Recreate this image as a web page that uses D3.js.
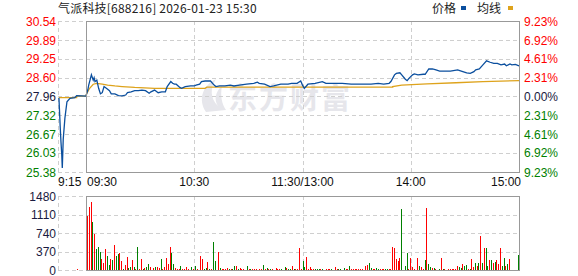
<!DOCTYPE html>
<html>
<head>
<meta charset="utf-8">
<script src="https://cdn.jsdelivr.net/npm/d3@7/dist/d3.min.js"></script>
<style>
  body { margin: 0; background: #fff; }
  svg { display: block; }
</style>
</head>
<body>
<svg id="chart" width="578" height="276"></svg>
<script>
// --- data ---
const title = "气派科技[688216] 2026-01-23 15:30";
const preClose = 27.96;
const priceTicks = [30.54, 29.89, 29.25, 28.60, 27.96, 27.32, 26.67, 26.03, 25.38];
const pctTicks = ["9.23%", "6.92%", "4.61%", "2.31%", "0.00%", "2.31%", "4.61%", "6.92%", "9.23%"];
const volTicks = [1480, 1110, 740, 370, 0];
const timeTicks = [0, 60, 120, 180, 240];
const timeLabels = ["09:30", "10:30", "11:30/13:00", "14:00", "15:00"];

// call auction 9:15-9:30, [minutes after 9:15, price]
const auctionPrice = [[0.5, 27.92], [1.2, 26.90], [1.6, 26.40], [2.0, 26.00], [2.3, 25.52],
  [2.8, 26.50], [3.7, 27.22], [4.8, 27.78], [6.4, 27.90], [9.0, 27.92], [10.0, 27.99], [15.0, 27.97]];
const auctionAvg = [[0.5, 27.92], [10.0, 27.92], [10.0, 27.97], [15.0, 27.97]];
const auctionVol = [[10, 20]];

// continuous session, [minute index from 9:30, price]
const price = [[0, 27.98], [1, 28.18], [1.5, 28.35], [3, 28.70], [4, 28.52], [4.5, 28.60], [5, 28.47],
  [6, 28.52], [7, 28.24], [8, 28.05], [9, 28.09], [10, 28.30], [12, 28.21], [13, 28.16], [14, 28.05],
  [16, 28.05], [18, 27.99], [20, 27.98], [22, 28.01], [23, 28.09], [25, 28.12], [27, 28.16], [29, 28.16],
  [31, 28.18], [33, 28.16], [35, 28.07], [36, 28.12], [38, 28.18], [40, 28.09], [42, 28.12], [44, 28.12],
  [45, 28.30], [47, 28.47], [48, 28.41], [49, 28.38], [50, 28.38], [52, 28.27], [53, 28.24], [55, 28.30],
  [58, 28.32], [60, 28.32], [61, 28.35], [63, 28.38], [64, 28.47], [66, 28.49], [69, 28.49], [71, 28.35],
  [72, 28.30], [74, 28.32], [77, 28.32], [80, 28.35], [82, 28.32], [85, 28.35], [89, 28.38], [93, 28.41],
  [95, 28.45], [96, 28.41], [99, 28.38], [102, 28.30], [104, 28.32], [108, 28.38], [112, 28.38],
  [114, 28.41], [117, 28.41], [119, 28.49], [120, 28.35], [121, 28.24], [123, 28.38], [127, 28.41],
  [131, 28.47], [133, 28.41], [136, 28.41], [142, 28.41], [147, 28.38], [153, 28.38], [158, 28.38],
  [162, 28.41], [165, 28.38], [168, 28.41], [169, 28.47], [171, 28.70], [172, 28.75], [174, 28.77],
  [175, 28.70], [177, 28.55], [178, 28.50], [179, 28.58], [181, 28.70], [182, 28.73], [184, 28.70],
  [187, 28.72], [188, 28.72], [190, 28.90], [192, 28.90], [194, 28.87], [196, 28.83], [199, 28.83],
  [202, 28.83], [206, 28.87], [208, 28.83], [211, 28.77], [213, 28.75], [215, 28.81], [216, 28.87],
  [218, 28.90], [220, 29.04], [222, 29.18], [224, 29.13], [226, 29.09], [228, 29.09], [230, 29.04],
  [232, 29.07], [233, 29.01], [235, 29.07], [236, 29.04], [238, 29.06], [240, 29.01]];

const avgPrice = [[0, 28.01], [2, 28.24], [4, 28.38], [6, 28.41], [9, 28.38], [12, 28.35], [16, 28.32],
  [20, 28.30], [27, 28.27], [38, 28.24], [66, 28.24], [67, 28.28], [170, 28.28], [170, 28.30],
  [175, 28.35], [189, 28.39], [205, 28.43], [220, 28.47], [240, 28.50]];

// volume per minute (hands); negative = down tick (green)
const volume = [
  1080, 1266, 1360, -960, 720, -413, -453, -360, 220, 147, 413, -280, -100, 213, -200, 500, -280, -320, 347, 180,
  -20, 100, 267, -47, -67, 200, -67, 20, -467, 20, 220, -20, 47, -67, -120, 53, 10, 33, -53, 53,
  33, -220, 20, 53, 233, 120, 467, -347, -120, 33, 20, 20, -80, 20, 20, 53, 20, 10, -53, 20,
  -80, 20, 10, 280, 220, -20, -33, 167, -20, 20, -567, -180, 10, 367, -33, 20, 20, 20, 40, -20,
  20, -20, -80, 80, -20, 33, 20, 20, 10, -80, 20, -20, 20, 20, 20, 10, 20, 20, -100, 20,
  -40, 20, -20, 20, 10, 40, 20, 20, -20, 10, -60, 40, -20, -20, 80, -20, 20, 20, 440, 20,
  -180, -60, 260, 20, 60, 20, 20, -20, -20, -20, 20, -20, 10, 20, 20, 20, -20, 10, 60, 20,
  -20, -20, 10, -40, 20, 20, -80, 20, 20, 20, 20, 20, 20, 20, 10, 80, 100, -140, -40, 20,
  20, -40, -20, 20, 20, 20, -20, -20, 20, 20, 460, 440, 220, 180, 240, -1220, 10, -80, -340, 20,
  240, 60, 20, 10, 240, -80, 60, 20, -200, 1240, -120, -60, 40, -40, 20, 10, -20, 240, -20, 20,
  10, 20, 20, 20, 20, 20, 80, -60, -40, 120, -80, -100, 20, -20, 220, 60, -140, 80, -140, 680,
  -140, 440, -440, -80, 200, -200, 140, -160, 200, 120, 440, -80, -240, 80, -120, 220, 0, 0, 0, 0,
  -300
];

// --- layout ---
const left = 86, right = 519, preLeft = 58;
const mainTop = 21, mainBottom = 172;
const volTop = 196, volBottom = 270;

const svg = d3.select('#chart');
const font = '"Liberation Sans", Arial, sans-serif';
const cjk = '"Noto Sans CJK SC", sans-serif';
const gridColor = '#cfcfcf';
const frameColor = '#999';
const up = '#ff0000', down = '#008000';
const lineBlue = '#0b4f9e', lineGold = '#dea31c';

const x = d3.scaleLinear().domain([0, 240]).range([left, right]);
const xPre = d3.scaleLinear().domain([0, 15]).range([preLeft, left]);
const xBar = d3.scaleLinear().domain([0, 240]).range([left + 1, right - 1]);
const y = d3.scaleLinear().domain([priceTicks[8], priceTicks[0]]).range([mainBottom, mainTop]);
const yVol = d3.scaleLinear().domain([0, volTicks[0]]).range([volBottom, volTop]);

// watermark
const wm = svg.append('g').attr('fill', '#e6e6eb');
wm.append('path')
  .attr('d', 'M206,112 C198,100 202,86 216,79 C210,88 210,98 218,106 C214,100 215,92 222,86 C220,96 222,104 226,110 Z');
wm.append('text')
  .attr('x', 228).attr('y', 109)
  .attr('font-family', cjk).attr('font-weight', 'bold').attr('font-size', 29)
  .attr('letter-spacing', 2)
  .text('东方财富');

// title + legend
svg.append('text')
  .attr('x', 58).attr('y', 13)
  .attr('font-family', cjk).attr('font-size', 12).attr('fill', '#222')
  .attr('letter-spacing', 0.2)
  .text(title);

const legend = svg.append('g').attr('font-family', cjk).attr('font-size', 12).attr('fill', '#222');
legend.append('text').attr('x', 432).attr('y', 13).text('价格');
legend.append('rect').attr('x', 461).attr('y', 6).attr('width', 5).attr('height', 4).attr('fill', lineBlue);
legend.append('text').attr('x', 477).attr('y', 13).text('均线');
legend.append('rect').attr('x', 508).attr('y', 6).attr('width', 5).attr('height', 4).attr('fill', lineGold);

// grid
const grid = svg.append('g')
  .attr('stroke', gridColor).attr('stroke-dasharray', '4,3').attr('shape-rendering', 'crispEdges');

grid.selectAll('.hp').data(priceTicks).enter().append('line')
  .attr('x1', preLeft).attr('x2', right)
  .attr('y1', d => Math.round(y(d)) + 0.5).attr('y2', d => Math.round(y(d)) + 0.5);
grid.selectAll('.hv').data(volTicks).enter().append('line')
  .attr('x1', preLeft).attr('x2', right)
  .attr('y1', d => Math.round(yVol(d)) + 0.5).attr('y2', d => Math.round(yVol(d)) + 0.5);

[[mainTop, mainBottom], [volTop, volBottom]].forEach(([t, b]) => {
  grid.append('line').attr('x1', preLeft + 0.5).attr('x2', preLeft + 0.5).attr('y1', t).attr('y2', b);
  grid.selectAll(null).data(timeTicks.slice(1, 4)).enter().append('line')
    .attr('x1', d => Math.round(x(d)) + 0.5).attr('x2', d => Math.round(x(d)) + 0.5)
    .attr('y1', t).attr('y2', b);
});

// axis labels
const axisTxt = svg.append('g').attr('font-family', font).attr('font-size', 12);
const tickColor = (d, i) => i < 4 ? up : (i === 4 ? '#1a1a40' : down);

axisTxt.selectAll('.pl').data(priceTicks).enter().append('text')
  .attr('x', 56).attr('y', d => y(d) + 4.5).attr('text-anchor', 'end')
  .attr('fill', tickColor)
  .text(d => d.toFixed(2));

axisTxt.selectAll('.pr').data(pctTicks).enter().append('text')
  .attr('x', 524).attr('y', (d, i) => y(priceTicks[i]) + 4.5)
  .attr('fill', tickColor)
  .text(d => d);

axisTxt.selectAll('.vl').data(volTicks).enter().append('text')
  .attr('x', 56).attr('y', d => yVol(d) + 4.5).attr('text-anchor', 'end')
  .attr('fill', '#1a1a40')
  .text(d => d);

axisTxt.append('text').attr('x', 58).attr('y', 186).attr('fill', '#111').text('9:15');
axisTxt.selectAll('.tl').data(timeTicks).enter().append('text')
  .attr('x', (d, i) => i === 0 ? x(d) + 1 : (i === 4 ? x(d) + 2 : x(d)))
  .attr('y', 186)
  .attr('text-anchor', (d, i) => i === 0 ? 'start' : (i === 4 ? 'end' : 'middle'))
  .attr('fill', '#111')
  .text((d, i) => timeLabels[i]);

// volume bars
const bars = svg.append('g').attr('shape-rendering', 'crispEdges');
bars.selectAll('rect.v').data(volume).enter().append('rect')
  .attr('x', (d, i) => Math.round(xBar(i)))
  .attr('width', 1)
  .attr('y', d => yVol(Math.abs(d)))
  .attr('height', d => volBottom - yVol(Math.abs(d)))
  .attr('fill', d => d < 0 ? down : up);
bars.selectAll('rect.a').data(auctionVol).enter().append('rect')
  .attr('x', d => Math.round(xPre(d[0])))
  .attr('width', 1)
  .attr('y', d => yVol(d[1]))
  .attr('height', d => volBottom - yVol(d[1]))
  .attr('fill', up);

// lines
const line = d3.line().x(d => x(d[0])).y(d => y(d[1]));
const linePre = d3.line().x(d => xPre(d[0])).y(d => y(d[1]));

svg.append('path').datum(auctionAvg).attr('d', linePre)
  .attr('fill', 'none').attr('stroke', lineGold).attr('stroke-width', 1.3);
svg.append('path').datum(auctionPrice).attr('d', linePre)
  .attr('fill', 'none').attr('stroke', lineBlue).attr('stroke-width', 1.3);
svg.append('path').datum(avgPrice).attr('d', line)
  .attr('fill', 'none').attr('stroke', lineGold).attr('stroke-width', 1.3);
svg.append('path').datum(price).attr('d', line)
  .attr('fill', 'none').attr('stroke', lineBlue).attr('stroke-width', 1.3);

// frames
const frames = svg.append('g').attr('fill', 'none').attr('stroke', frameColor).attr('shape-rendering', 'crispEdges');
frames.append('rect').attr('x', left + 0.5).attr('y', mainTop + 0.5)
  .attr('width', right - left).attr('height', mainBottom - mainTop);
frames.append('rect').attr('x', left + 0.5).attr('y', volTop + 0.5)
  .attr('width', right - left).attr('height', volBottom - volTop);
</script>
</body>
</html>
